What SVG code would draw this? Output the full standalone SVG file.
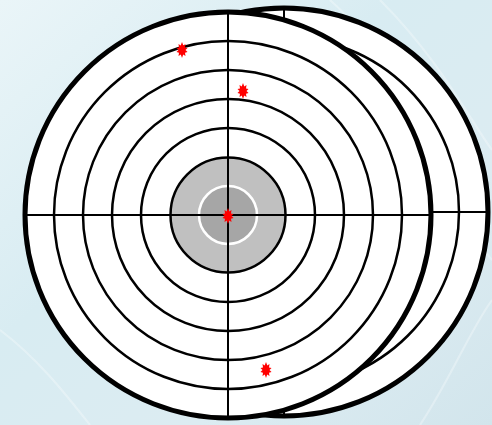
<svg xmlns="http://www.w3.org/2000/svg" xmlns:xlink="http://www.w3.org/1999/xlink" width="492" height="425" viewBox="0 0 492 425">
<defs>
<linearGradient id="bg" x1="0" y1="0" x2="1" y2="1">
<stop offset="0" stop-color="#eaf5f8"/>
<stop offset="0.4" stop-color="#d8ecf2"/>
<stop offset="0.7" stop-color="#dcecf2"/>
<stop offset="1" stop-color="#d2e5ec"/>
</linearGradient>
<polygon id="hole" fill="#ff0000" points="0,-8 1.3,-4.5 3.5,-6 3,-2.5 5.5,-2 3.5,0 5.5,2 3,2.8 3.5,6 1.2,4.5 0,8 -1.2,4.5 -3.5,6 -3,2.8 -5.5,2 -3.5,0 -5.5,-2 -3,-2.5 -3.5,-6 -1.3,-4.5"/>
<style>
.outer{fill:#fff;stroke:#000;stroke-width:5}
.ring{fill:none;stroke:#000;stroke-width:2.5}
.cross{stroke:#000;stroke-width:2}
</style>
</defs>
<rect width="492" height="425" fill="url(#bg)"/>
<g opacity="0.3" fill="none" stroke="#ffffff" stroke-width="2">
<path d="M330,0 C420,80 440,200 492,260"/>
<path d="M380,0 C440,60 470,120 492,150"/>
<path d="M0,330 C40,360 70,400 90,425"/>
<path d="M420,425 C450,380 470,330 492,300"/>
</g>
<g id="back-target">
<circle class="outer" cx="284" cy="212" r="204"/>
<circle class="ring" cx="284" cy="212" r="175"/>
<line class="cross" x1="284" y1="8" x2="284" y2="416"/>
<line class="cross" x1="80" y1="212" x2="488" y2="212"/>
</g>
<g id="front-target">
<circle class="outer" cx="228" cy="215" r="203"/>
<circle class="ring" cx="228" cy="215" r="174"/>
<circle class="ring" cx="228" cy="215" r="145"/>
<circle class="ring" cx="228" cy="215" r="116"/>
<circle class="ring" cx="228" cy="215" r="87"/>
<circle cx="228" cy="215" r="57.5" fill="#c0c0c0" stroke="#000" stroke-width="2.5"/>
<circle cx="228" cy="215" r="29" fill="#a6a6a6" stroke="#fff" stroke-width="2.5"/>
<line class="cross" x1="228" y1="12" x2="228" y2="418"/>
<line class="cross" x1="25" y1="215" x2="431" y2="215"/>
</g>
<g id="holes">
<use xlink:href="#hole" x="182" y="50"/>
<use xlink:href="#hole" x="243" y="91"/>
<use xlink:href="#hole" x="228" y="216"/>
<use xlink:href="#hole" x="266" y="370"/>
</g>
</svg>
